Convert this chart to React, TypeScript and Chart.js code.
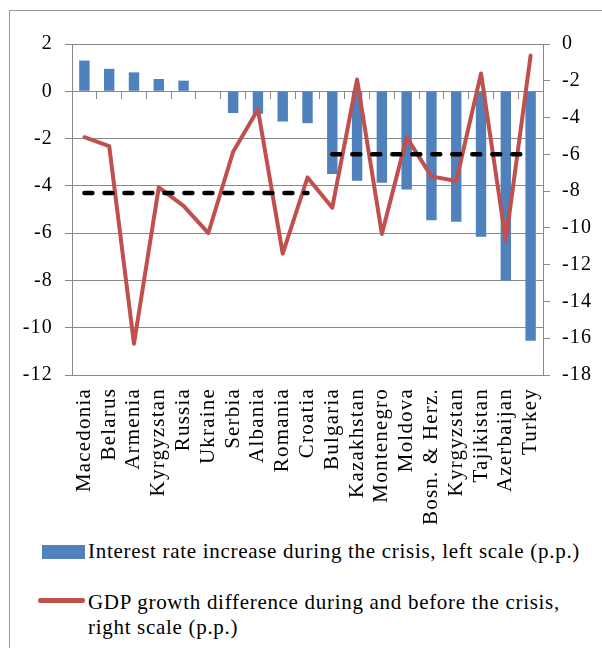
import React, { useEffect, useRef } from 'react';
import { Chart, registerables } from 'chart.js';

Chart.register(...registerables);

const countries = [
  'Macedonia', 'Belarus', 'Armenia', 'Kyrgyzstan', 'Russia', 'Ukraine', 'Serbia', 'Albania', 'Romania', 'Croatia',
  'Bulgaria', 'Kazakhstan', 'Montenegro', 'Moldova', 'Bosn. & Herz.', 'Kyrgyzstan', 'Tajikistan', 'Azerbaijan', 'Turkey',
];
const interestRateIncrease = [
  1.3, 0.95, 0.8, 0.52, 0.45, 0.02, -0.92, -0.95, -1.28, -1.35,
  -3.5, -3.78, -3.87, -4.15, -5.45, -5.52, -6.15, -8.0, -10.55,
];
const gdpGrowthDifference = [
  -5.07, -5.55, -16.3, -7.8, -8.8, -10.28, -5.86, -3.56, -11.4, -7.26,
  -8.9, -1.93, -10.33, -5.08, -7.2, -7.45, -1.6, -10.7, -0.62,
];
const groupAverage = [-8.1, -6.0];
const groupFirst = ['Macedonia', 'Bulgaria'];
const groupLast = ['Croatia', 'Turkey'];
const leftRange = [-12, 2];
const rightRange = [-18, 0];
const tickStep = 2;

const legendBar = 'Interest rate increase during the crisis, left scale (p.p.)';
const legendLine = ['GDP growth difference during and before the crisis,', 'right scale (p.p.)'];

const BLUE = '#4F81BD';
const RED = '#C0504D';
const GRAY = '#898989';
const FONT_FAMILY = "'Liberation Serif', 'Times New Roman', serif";

const letterSpacingPlugin = {
  id: 'letterSpacing',
  beforeDraw(chart: any) {
    try {
      (chart.ctx as any).letterSpacing = '1.2px';
    } catch (e) {
      /* unsupported */
    }
  },
};

export default function App() {
  const canvasRef = useRef<HTMLCanvasElement | null>(null);

  useEffect(() => {
    document.body.style.margin = '0';
    const canvas = canvasRef.current;
    if (!canvas) return;
    const tickFont = { family: FONT_FAMILY, size: 20 };
    const labelFont = { family: FONT_FAMILY, size: 21 };
    const chart = new Chart(canvas, {
      type: 'bar',
      plugins: [letterSpacingPlugin],
      data: {
        labels: countries,
        datasets: [
          ...groupAverage.map((v, i) => ({
            type: 'line' as const,
            label: 'group average ' + (i + 1),
            data: [
              { x: groupFirst[i], y: v },
              { x: groupLast[i], y: v },
            ],
            xAxisID: 'x',
            yAxisID: 'y2',
            borderColor: '#000',
            borderWidth: 4.5,
            borderDash: [8, 12],
            borderCapStyle: 'round' as const,
            pointRadius: 0,
            order: 1,
          })),
          {
            type: 'line' as const,
            label: legendLine.join(' '),
            data: gdpGrowthDifference,
            xAxisID: 'x',
            yAxisID: 'y2',
            borderColor: RED,
            borderWidth: 4,
            borderJoinStyle: 'round' as const,
            borderCapStyle: 'round' as const,
            pointRadius: 0,
            tension: 0,
            order: 2,
          },
          {
            type: 'bar' as const,
            label: legendBar,
            data: interestRateIncrease,
            xAxisID: 'x',
            yAxisID: 'y',
            backgroundColor: BLUE,
            barPercentage: 0.42,
            categoryPercentage: 1,
            order: 3,
          },
        ] as any,
      },
      options: {
        animation: false,
        responsive: true,
        maintainAspectRatio: false,
        layout: { padding: { top: 44, left: 0, right: 0, bottom: 0 } },
        plugins: { legend: { display: false }, tooltip: { enabled: false } },
        scales: {
          x: {
            type: 'category',
            position: 'bottom',
            offset: true,
            grid: { display: false, drawTicks: false },
            border: { display: false },
            ticks: { autoSkip: false, minRotation: 90, maxRotation: 90, padding: 13, color: '#000', font: labelFont },
            afterFit: (s: any) => { s.height = 150; },
          },
          xZero: {
            type: 'category',
            labels: countries,
            position: { y: 0 },
            offset: true,
            grid: { offset: true, drawOnChartArea: false, drawTicks: true, tickLength: 7, color: GRAY, lineWidth: 1 },
            border: { display: true, color: GRAY, width: 1 },
            ticks: { display: false },
          },
          y: {
            position: 'left',
            min: leftRange[0],
            max: leftRange[1],
            ticks: { stepSize: tickStep, padding: 12, color: '#000', font: tickFont },
            grid: { color: GRAY, tickLength: 7, drawTicks: true, lineWidth: 1 },
            border: { display: true, color: GRAY, width: 1 },
            afterFit: (s: any) => { s.width = 72; },
          },
          y2: {
            position: 'right',
            min: rightRange[0],
            max: rightRange[1],
            ticks: { stepSize: tickStep, padding: 12, color: '#000', font: tickFont },
            grid: { drawOnChartArea: false, color: GRAY, tickLength: 7, drawTicks: true, lineWidth: 1 },
            border: { display: true, color: GRAY, width: 1 },
            afterFit: (s: any) => { s.width = 59; },
          },
        } as any,
      },
    });
    return () => chart.destroy();
  }, []);

  const textStyle: React.CSSProperties = {
    position: 'absolute',
    left: 88,
    fontFamily: FONT_FAMILY,
    fontSize: 21,
    letterSpacing: '0.7px',
    lineHeight: '25px',
    color: '#000',
    whiteSpace: 'nowrap',
  };

  return (
    <div style={{ position: 'relative', width: 602, height: 648, overflow: 'hidden', background: '#fff' }}>
      <div
        style={{
          position: 'absolute', left: 9, top: 10, width: 700, height: 700,
          border: '1px solid #999', boxSizing: 'border-box',
        }}
      />
      <div style={{ position: 'absolute', left: 0, top: 0, width: 602, height: 525 }}>
        <canvas ref={canvasRef} />
      </div>
      <div style={{ position: 'absolute', left: 42, top: 545, width: 43, height: 14, background: BLUE }} />
      <div style={{ ...textStyle, top: 539 }}>{legendBar}</div>
      <div style={{ position: 'absolute', left: 38, top: 598, width: 47, height: 4.5, borderRadius: 2.25, background: RED }} />
      <div style={{ ...textStyle, top: 590 }}>
        {legendLine[0]}
        <br />
        {legendLine[1]}
      </div>
    </div>
  );
}
